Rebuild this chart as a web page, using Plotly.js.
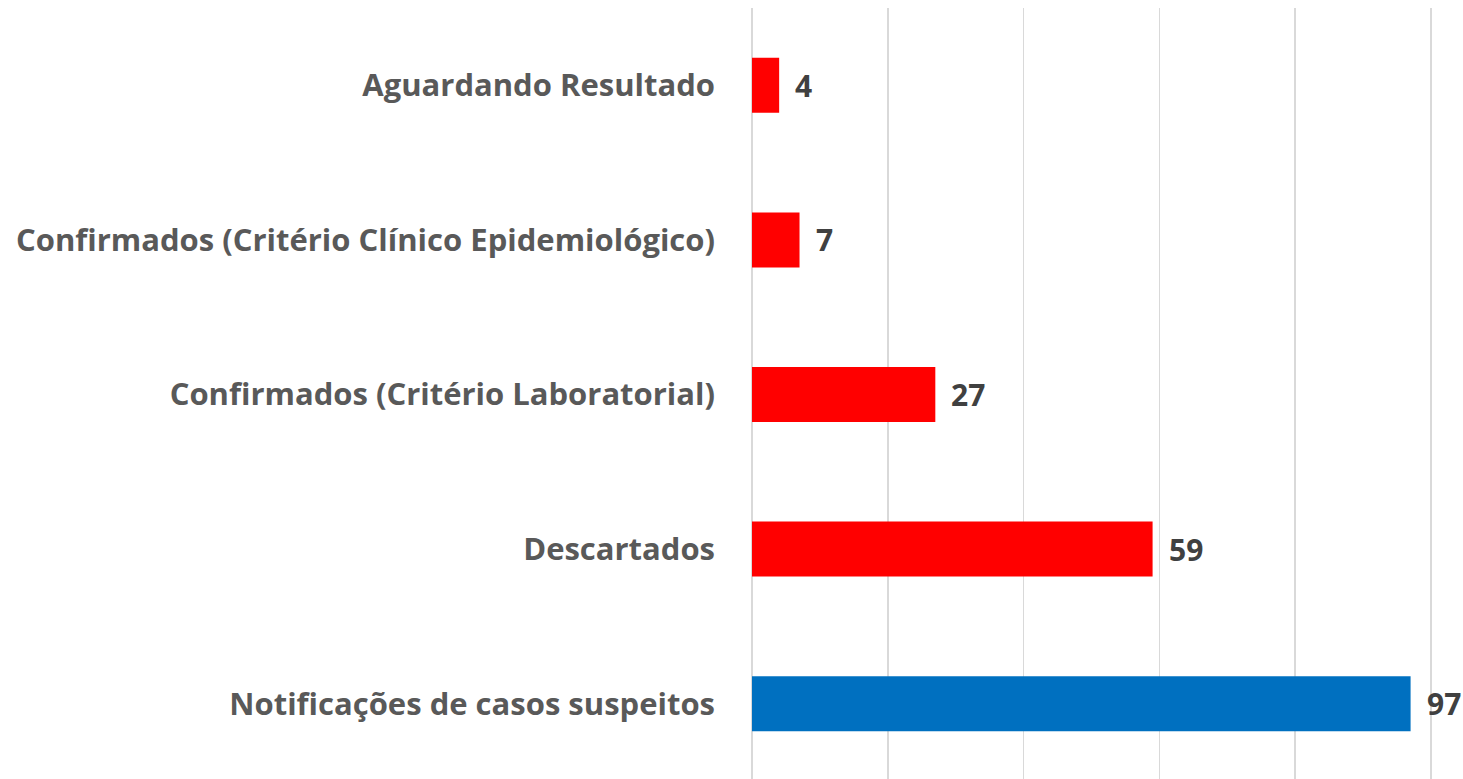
<!DOCTYPE html>
<html>
<head>
<meta charset="utf-8">
<script src="https://cdn.plot.ly/plotly-3.0.1.min.js"></script>
<style>html,body{margin:0;padding:0;overflow:hidden;background:#fff;}</style>
</head>
<body>
<div id="chart" style="width:1463px;height:779px;"></div>
<script>
const categories = [
  "Aguardando Resultado",
  "Confirmados (Critério Clínico Epidemiológico)",
  "Confirmados (Critério Laboratorial)",
  "Descartados",
  "Notificações de casos suspeitos"
];
const values = [4, 7, 27, 59, 97];
const barColors = ["#FF0000", "#FF0000", "#FF0000", "#FF0000", "#0070C0"];
const tickValues = [0, 20, 40, 60, 80, 100];

const trace = {
  type: "bar",
  orientation: "h",
  y: categories,
  x: values,
  marker: {color: barColors},
  hoverinfo: "none"
};

const annotations = values.map((v, i) => ({
  x: v, y: categories[i], xref: "x", yref: "y",
  text: String(v), showarrow: false, xanchor: "left", xshift: 14,
  font: {family: "'Open Sans', sans-serif", size: 30, color: "#404040", weight: "bold"}
}));

const layout = {
  width: 1463, height: 781,
  margin: {l: 752, r: 30, t: 8, b: 0, pad: 0},
  paper_bgcolor: "#ffffff", plot_bgcolor: "#ffffff",
  bargap: 0.644,
  showlegend: false,
  xaxis: {
    range: [0, 100.3], tickvals: tickValues, showticklabels: false,
    showgrid: true, gridcolor: "#d9d9d9", gridwidth: 1.5,
    zeroline: true, zerolinecolor: "#d9d9d9", zerolinewidth: 1.5,
    showline: false, fixedrange: true
  },
  yaxis: {
    autorange: "reversed", showgrid: false, zeroline: false, showline: false,
    ticks: "", ticklabelstandoff: 36,
    tickfont: {family: "'Open Sans', sans-serif", size: 31, color: "#595959", weight: "bold"},
    fixedrange: true
  },
  annotations: annotations
};

Plotly.newPlot("chart", [trace], layout, {displayModeBar: false, staticPlot: true});
</script>
</body>
</html>
